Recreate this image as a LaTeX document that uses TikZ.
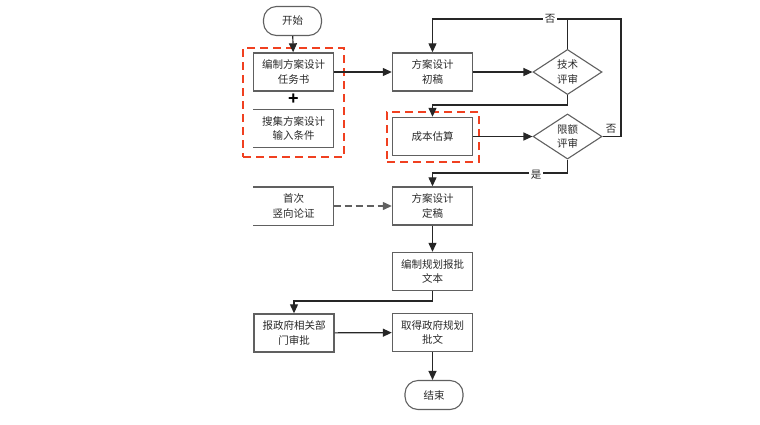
\documentclass[tikz,border=0pt]{standalone}
\usepackage{fontspec}
\setmainfont{Liberation Sans}
\newfontfamily\cjk{Noto Sans CJK SC}
\usetikzlibrary{arrows.meta,shapes.geometric}
\definecolor{boxgrey}{HTML}{606060}
\definecolor{linedark}{HTML}{262626}
\definecolor{txt}{HTML}{2A2A2A}
\definecolor{redd}{HTML}{F04020}
\begin{document}
\begin{tikzpicture}[x=1pt,y=-1pt,
  every node/.style={font=\cjk\fontsize{10.5}{14.5}\selectfont, text=txt, align=center},
  proc/.style={draw=boxgrey, line width=1.4pt, rectangle, inner sep=0pt, minimum width=80pt, minimum height=38pt},
  openbox/.style={rectangle, inner sep=0pt, minimum width=80pt, minimum height=38pt},
  term/.style={draw=boxgrey, line width=1.1pt, rectangle, rounded corners=13pt, inner sep=0pt, minimum width=58pt, minimum height=29pt},
  decis/.style={draw=boxgrey, line width=1.1pt, diamond, inner sep=0pt, minimum width=69pt, minimum height=40pt},
  redbox/.style={draw=redd, line width=1.8pt, dash pattern=on 8pt off 5pt, rectangle, inner sep=0pt},
  conn/.style={draw=linedark, line width=1.2pt, -{Triangle[length=9pt,width=8pt]}},
  plain/.style={draw=linedark, line width=1.2pt},
  lbl/.style={fill=white, inner sep=1.5pt}
]
\useasboundingbox (0,0) rectangle (760,424);

% red dashed groups
\node[redbox, minimum width=101pt, minimum height=109pt] (r1) at (293.5,102.5) {};
\node[redbox, minimum width=92pt, minimum height=50pt] (r2) at (433,137) {};

% nodes
\node[term] (start) at (292.5,21) {开始};
\node[proc] (b1) at (293.5,72) {编制方案设计\\任务书};
\node[font=\bfseries\fontsize{18}{18}\selectfont, text=black, inner sep=0pt] (plus) at (293.5,99) {+};
\node[openbox] (b2) at (293.5,128.5) {搜集方案设计\\输入条件};
\draw[boxgrey, line width=1.4pt] (b2.north west) -- (b2.north east) -- (b2.south east) -- (b2.south west);
\node[openbox] (b3) at (293.5,206) {首次\\竖向论证};
\draw[boxgrey, line width=1.4pt] (b3.north west) -- (b3.north east) -- (b3.south east) -- (b3.south west);

\node[proc] (c1) at (432.5,72) {方案设计\\初稿};
\node[proc] (c2) at (432.5,136.5) {成本估算};
\node[proc] (c3) at (432.5,206) {方案设计\\定稿};
\node[proc] (c4) at (432.5,271.5) {编制规划报批\\文本};
\node[proc] (b4) at (294,333) {报政府相关部\\门审批};
\node[proc] (c5) at (432.5,332.5) {取得政府规划\\批文};
\node[term] (end) at (434,395) {结束};

\node[decis] (d1) at (567.5,72) {技术\\评审};
\node[decis] (d2) at (567.5,136.5) {限额\\评审};

% connectors
\coordinate (top) at (567.5,19);
\draw[conn] (start) -- (b1);
\draw[conn] (b1) -- (c1);
\draw[conn] (c1) -- (d1);
\draw[conn] (d1.north) -- (top) -- (432.5,19) -- (c1.north);
\draw[plain] (d2.east) -- (621,136.5) -- (621,19) -- (top);
\node[lbl] (no1) at (550,19) {否};
\node[inner sep=0pt] (no2) at (611,129) {否};
\draw[conn] (d1.south) -- (567.5,105) -- (432.5,105) -- (c2.north);
\draw[conn] (c2) -- (d2);
\draw[conn] (d2.south) -- (567.5,173) -- (432.5,173) -- (c3.north);
\node[lbl] (yes) at (536,175) {是};
\draw[conn, draw=boxgrey, dash pattern=on 7pt off 4pt] (b3) -- (c3);
\draw[conn] (c3) -- (c4);
\draw[conn] (c4.south) -- (432.5,301) -- (294,301) -- (b4.north);
\draw[conn] (b4) -- (c5);
\draw[conn] (c5.south) -- (c5.south |- end.north);
\end{tikzpicture}
\end{document}
